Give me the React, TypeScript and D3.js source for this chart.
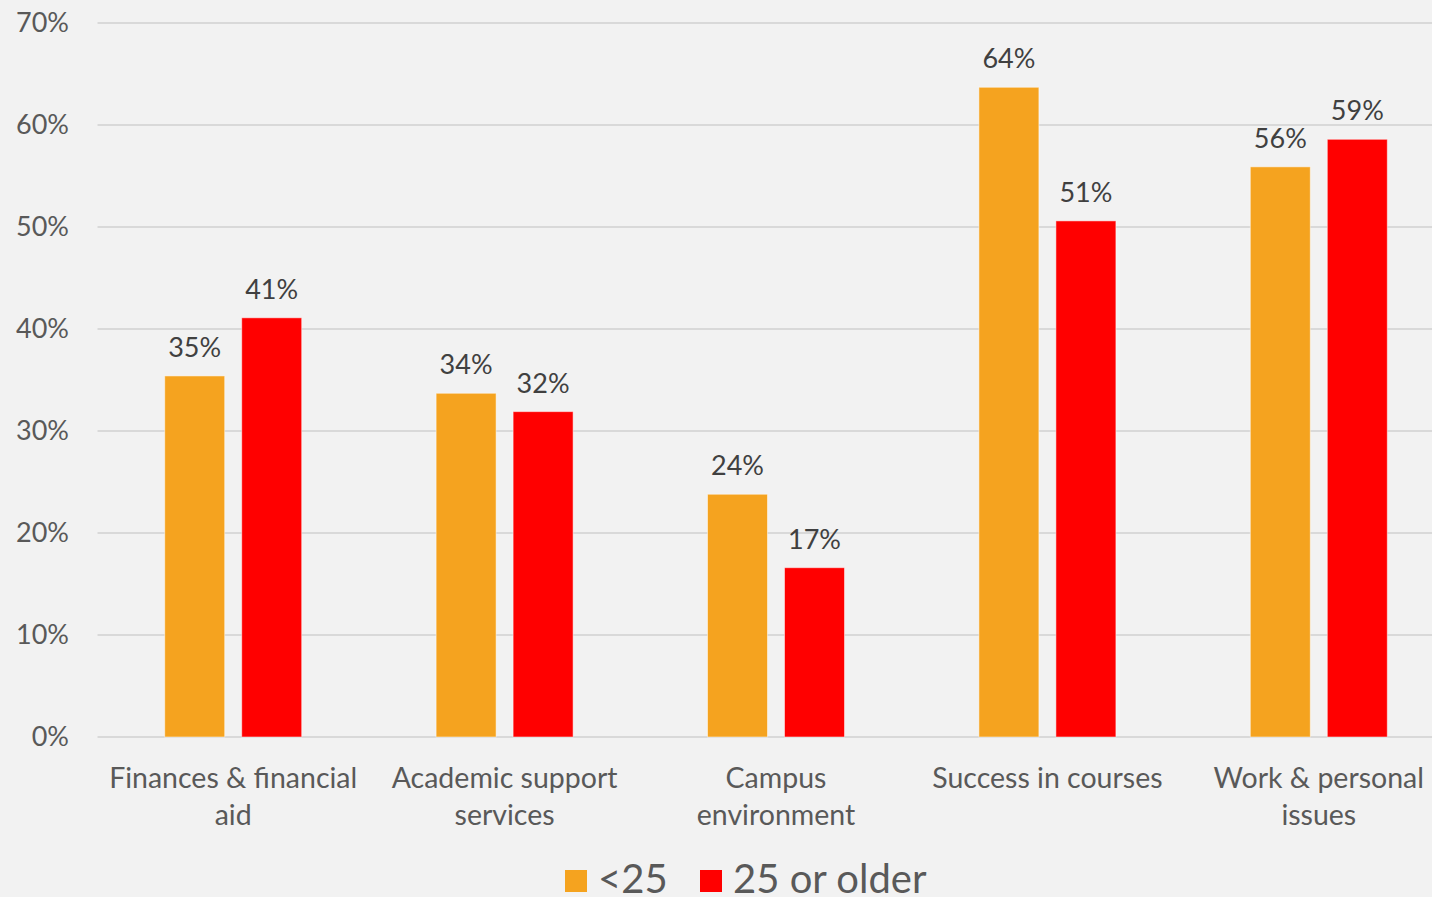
import { useEffect, useRef } from "react";
import * as d3 from "d3";

const categories = [
  ["Finances & financial", "aid"],
  ["Academic support", "services"],
  ["Campus", "environment"],
  ["Success in courses"],
  ["Work & personal", "issues"],
];
const seriesNames = ["<25", "25 or older"];
const under25 = [35.4, 33.7, 23.8, 63.7, 55.9];
const older25 = [41.1, 31.9, 16.6, 50.6, 58.6];
const colors = ["#F5A31F", "#FF0000"];
const yTicks = [0, 10, 20, 30, 40, 50, 60, 70];

const W = 1432;
const H = 897;
const FONT = "Lato, 'Open Sans', sans-serif";

export default function App() {
  const svgRef = useRef<SVGSVGElement | null>(null);

  useEffect(() => {
    const svg = d3.select(svgRef.current);
    svg.selectAll("*").remove();

    const margin = { left: 97.5, right: -22.5, top: 23, bottom: 160 };
    const keys = categories.map((c) => c.join(" "));
    const series = [under25, older25];

    svg.append("rect").attr("width", W).attr("height", H).attr("fill", "#f2f2f2");

    const x = d3
      .scaleBand<string>()
      .domain(keys)
      .range([margin.left, W - margin.right]);

    const inner = d3
      .scaleBand<number>()
      .domain([0, 1])
      .range([-68.5, 68.5])
      .paddingInner(17 / 77);

    const y = d3
      .scaleLinear()
      .domain([0, 70])
      .range([H - margin.bottom, margin.top]);

    // gridlines
    svg
      .append("g")
      .selectAll("line")
      .data(yTicks)
      .join("line")
      .attr("x1", margin.left)
      .attr("x2", W)
      .attr("y1", (d) => y(d))
      .attr("y2", (d) => y(d))
      .attr("stroke", "#d9d9d9")
      .attr("stroke-width", 2);

    // y labels
    svg
      .append("g")
      .selectAll("text")
      .data(yTicks)
      .join("text")
      .attr("x", 69)
      .attr("y", (d) => y(d))
      .attr("dy", "0.35em")
      .attr("text-anchor", "end")
      .attr("font-family", FONT)
      .attr("font-size", 27)
      .attr("fill", "#595959")
      .text((d) => `${d}%`);

    // bars
    series.forEach((vals, si) => {
      const g = svg.append("g");
      g.selectAll("rect")
        .data(vals)
        .join("rect")
        .attr("x", (_, i) => x(keys[i])! + x.bandwidth() / 2 + inner(si)!)
        .attr("width", inner.bandwidth())
        .attr("y", (d) => y(d))
        .attr("height", (d) => y(0) - y(d))
        .attr("fill", colors[si])
        .attr("stroke", "rgba(255,255,255,0.5)")
        .attr("stroke-width", 1);

      g.selectAll("text")
        .data(vals)
        .join("text")
        .attr("x", (_, i) => x(keys[i])! + x.bandwidth() / 2 + inner(si)! + inner.bandwidth() / 2)
        .attr("y", (d) => y(d) - 19)
        .attr("text-anchor", "middle")
        .attr("font-family", FONT)
        .attr("font-size", 27)
        .attr("fill", "#404040")
        .text((d) => `${Math.round(d)}%`);
    });

    // category labels
    const cat = svg
      .append("g")
      .selectAll("text")
      .data(categories)
      .join("text")
      .attr("x", (_, i) => x(keys[i])! + x.bandwidth() / 2)
      .attr("y", 788)
      .attr("text-anchor", "middle")
      .attr("font-family", FONT)
      .attr("font-size", 28.5)
      .attr("fill", "#595959");
    cat
      .selectAll("tspan")
      .data((d) => d)
      .join("tspan")
      .attr("x", function () {
        return (this.parentNode as SVGTextElement).getAttribute("x");
      })
      .attr("dy", (_, i) => (i === 0 ? 0 : 37))
      .text((d) => d);

    // legend
    const legendX = [565, 700];
    const lg = svg.append("g");
    seriesNames.forEach((name, i) => {
      lg.append("rect")
        .attr("x", legendX[i])
        .attr("y", 870)
        .attr("width", 22)
        .attr("height", 22)
        .attr("fill", colors[i]);
      lg.append("text")
        .attr("x", legendX[i] + 33)
        .attr("y", 893)
        .attr("font-family", FONT)
        .attr("font-size", 40)
        .attr("fill", "#595959")
        .text(name);
    });
  }, []);

  return (
    <svg
      ref={svgRef}
      width={W}
      height={H}
      style={{ position: "absolute", left: 0, top: 0, display: "block" }}
    />
  );
}
